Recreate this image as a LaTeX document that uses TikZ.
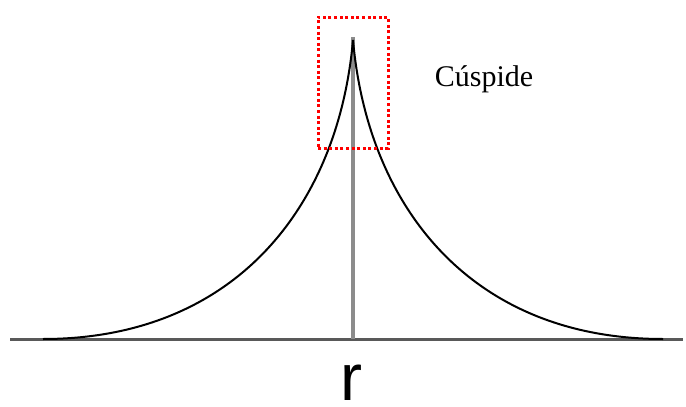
\documentclass[tikz,border=0pt]{standalone}
\usepackage{fontspec}
\newfontfamily\serifnote{Liberation Serif}
\newfontfamily\sanslabel{Liberation Sans}
\begin{document}
\begin{tikzpicture}[x=1pt, y=-1pt, every node/.style={inner sep=0pt}, >=stealth]
        \useasboundingbox (0, 0) rectangle (686, 407);
        \coordinate (L) at (10, 339);
        \coordinate (R) at (683, 339);
        \coordinate (O) at (353, 339);
        \coordinate (P) at (353, 40);
        \coordinate (top) at (353, 37);
        \draw[line width=3pt, black!65] (L) -- (R);
        \draw[line width=3.5pt, black!45] (O) -- (top);
        \draw[line width=2pt] (43, 339) .. controls (233, 339) and (338, 209) .. (P)
            .. controls (368, 209) and (473, 339) .. (663, 339);
        \node[draw=red, line width=3pt, dash pattern=on 3pt off 2.6pt, minimum width=70pt, minimum height=131pt] (box) at (353, 82.5) {};
        \node[font=\serifnote\fontsize{30}{30}\selectfont] (cusp) at (484, 79) {Cúspide};
        \node[font=\sanslabel\fontsize{66}{66}\selectfont, anchor=base] (r) at (351, 400) {r};
    \end{tikzpicture}
\end{document}
